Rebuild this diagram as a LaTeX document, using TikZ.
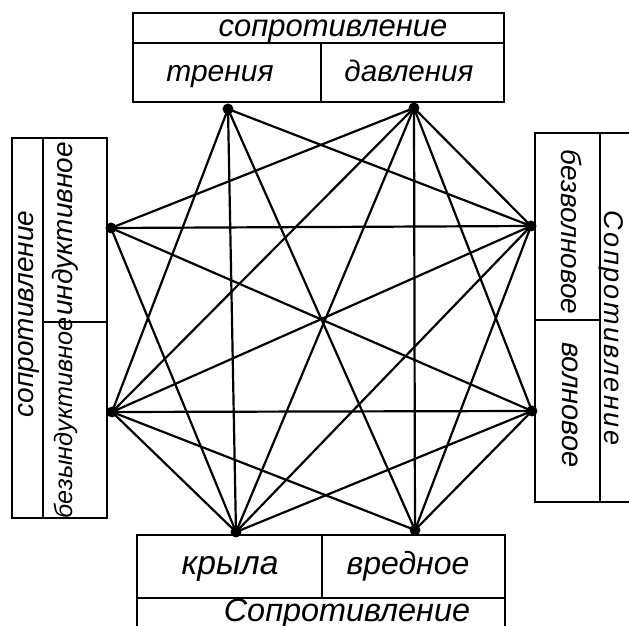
\documentclass[tikz,border=0pt]{standalone}
\usepackage{fontspec}
\setmainfont{Liberation Sans}
\usetikzlibrary{positioning}

\tikzset{
  vertex/.style={circle, fill=black, inner sep=0pt, minimum size=5.5pt},
  link/.style={line width=1.1pt},
  frame/.style={line width=1.3pt},
  caption/.style={font=\fontsize{#1}{18}\selectfont\itshape, inner sep=0pt, anchor=base},
  caption/.default=15,
}

\begin{document}
\begin{tikzpicture}[x=0.5pt, y=-0.5pt]
  \useasboundingbox (0,0) rectangle (629,626);
  \clip (0,0) rectangle (629,626);

  % frames
  \draw[frame] (133,13) rectangle (504,102);
  \draw[frame] (133,43) -- (504,43) (321,43) -- (321,102);
  \draw[frame] (12,138) rectangle (107,518);
  \draw[frame] (43,138) -- (43,518) (43,322) -- (107,322);
  \draw[frame] (535,133) rectangle (660,502);
  \draw[frame] (600,133) -- (600,502) (535,320) -- (600,320);
  \draw[frame] (137,535) rectangle (505,660);
  \draw[frame] (137,598) -- (505,598) (322,535) -- (322,598);

  % texts
  \node[caption=15.5] (topcap) at (333,37) {сопротивление};
  \node[caption=15] (fric) at (220,82) {трения};
  \node[caption=14.8] (press) at (409,82) {давления};
  \node[caption=14, rotate=90] (leftcap) at (33,314) {сопротивление};
  \node[caption=14, rotate=90] (ind) at (73,229) {индуктивное};
  \node[caption=12.6, rotate=90] (nonind) at (73,418) {безындуктивное};
  \node[caption=14, rotate=-90] (nowave) at (562,232) {безволновое};
  \node[caption=14.5, rotate=-90] (wave) at (563,405) {волновое};
  \node[caption=13.5, rotate=-90] (rightcap) at (605,328)
    {\addfontfeatures{LetterSpace=9}Сопротивление};
  \node[caption=16.8] (wing) at (230,575) {крыла};
  \node[caption=16] (harm) at (408,575) {вредное};
  \node[caption=16.2] (bottomcap) at (347,622) {Сопротивление};

  % points
  \node[vertex] (fricdot) at (228,109) {};
  \node[vertex] (pressdot) at (414,108) {};
  \node[vertex] (inddot) at (111,228) {};
  \node[vertex] (noninddot) at (112,412) {};
  \node[vertex] (nowavedot) at (531,226) {};
  \node[vertex] (wavedot) at (532,411) {};
  \node[vertex] (wingdot) at (236,532) {};
  \node[vertex] (harmdot) at (415,530) {};

  % links
  \foreach \a/\b in {fricdot/noninddot, fricdot/wingdot, fricdot/harmdot, fricdot/nowavedot,
      pressdot/inddot, pressdot/noninddot, pressdot/wingdot, pressdot/harmdot,
      pressdot/nowavedot, pressdot/wavedot,
      inddot/nowavedot, inddot/wavedot, inddot/wingdot,
      noninddot/nowavedot, noninddot/wavedot, noninddot/wingdot, noninddot/harmdot,
      nowavedot/wingdot, nowavedot/harmdot,
      wavedot/wingdot, wavedot/harmdot}
    \draw[link] (\a.center) -- (\b.center);
\end{tikzpicture}
\end{document}
